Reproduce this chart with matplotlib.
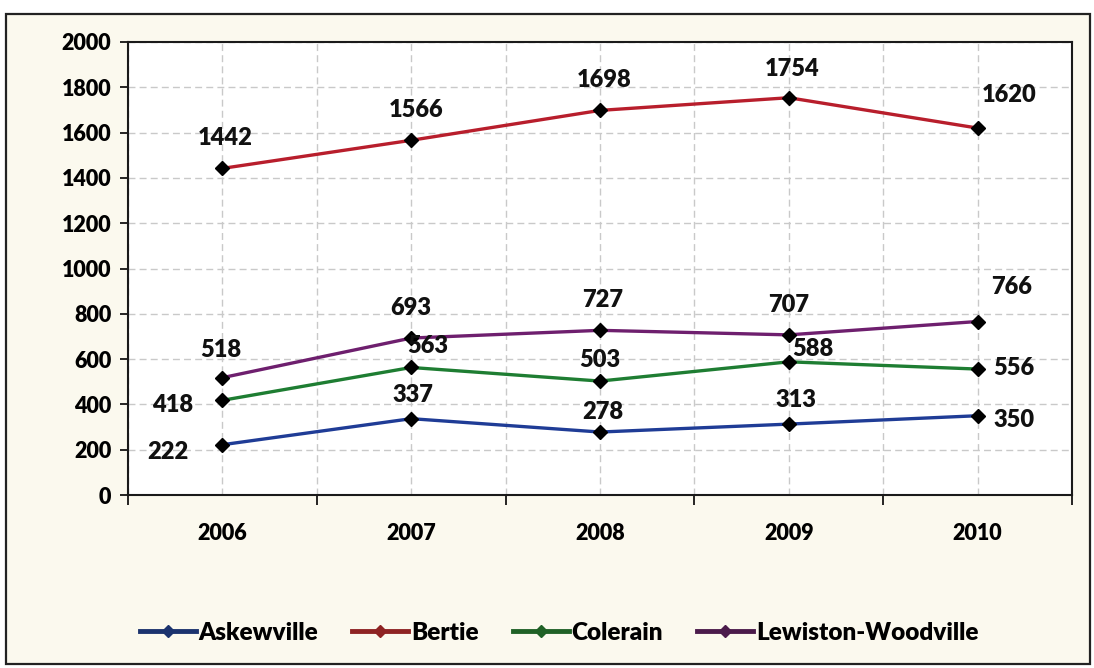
import matplotlib
matplotlib.use("Agg")
import matplotlib.pyplot as plt
from matplotlib.lines import Line2D
from matplotlib.patches import Rectangle

# Enrollment by school, 2006-2010
years = ["2006", "2007", "2008", "2009", "2010"]
askewville = [222, 337, 278, 313, 350]
bertie = [1442, 1566, 1698, 1754, 1620]
colerain = [418, 563, 503, 588, 556]
lewiston = [518, 693, 727, 707, 766]

series_names = ["Askewville", "Bertie", "Colerain", "Lewiston-Woodville"]
series_values = [askewville, bertie, colerain, lewiston]
series_colors = ["#1F3C96", "#B81E2C", "#1E7D32", "#6E1F6E"]
legend_colors = ["#1B336E", "#8E2323", "#1F6126", "#4B1B4B"]

# label offsets in pixels (dx, dy) for each series point
label_offsets = [
    [(-55, -7), (2, 24), (3, 20), (7, 24), (36, -4)],
    [(3, 30), (5, 30), (4, 30), (3, 29), (32, 33)],
    [(-50, -5), (17, 21), (0, 21), (24, 13), (36, 1)],
    [(-2, 28), (0, 30), (3, 30), (0, 30), (34, 35)],
]

plt.rcParams["font.family"] = ["Lato", "DejaVu Sans"]
plt.rcParams["font.weight"] = "heavy"
W = "heavy"

fig = plt.figure(figsize=(10.94, 6.68), dpi=100)
fig.patch.set_facecolor("white")

# cream chart area with dark frame, kept behind the axes
frame = Rectangle((6 / 1094, 1 - 664 / 668), 1084 / 1094, 650 / 668,
                  transform=fig.transFigure, facecolor="#FBF9EE",
                  edgecolor="#222222", linewidth=1.6, zorder=-10)
fig.patches.append(frame)

ax = fig.add_axes([128 / 1094, 1 - 495 / 668, 944 / 1094, 453 / 668])
ax.set_zorder(1)
ax.set_facecolor("white")

x = list(range(len(years)))
for vals, color, offs in zip(series_values, series_colors, label_offsets):
    ax.plot(x, vals, color=color, linewidth=2.4, zorder=3,
            marker="D", markersize=7, markerfacecolor="black",
            markeredgecolor="black")
    for xi, v, (dx, dy) in zip(x, vals, offs):
        ax.annotate(str(v), (xi, v), xytext=(dx, dy), textcoords="offset pixels",
                    ha="center", va="center", fontsize=17, fontweight=W,
                    color="#111111", zorder=4)

ax.set_xlim(-0.5, len(years) - 0.5)
ax.set_ylim(0, 2000)
ax.set_yticks(range(0, 2001, 200))
ax.set_xticks([i - 0.5 for i in range(len(years) + 1)])
ax.set_xticklabels([])
ax.set_xticks(x, minor=True)
ax.set_xticklabels(years, minor=True)

ax.tick_params(axis="x", which="major", length=7, width=1.2, direction="out")
ax.tick_params(axis="x", which="minor", length=0, pad=20, labelsize=15.5)
ax.tick_params(axis="y", length=6, width=1.2, direction="out", pad=6, labelsize=15.5)
for lab in ax.get_xticklabels(minor=True) + ax.get_yticklabels():
    lab.set_fontweight(W)

ax.grid(True, which="both", axis="x", color="#C9C9C9", linestyle=(0, (5, 3)), linewidth=1)
ax.grid(True, which="major", axis="y", color="#C9C9C9", linestyle=(0, (5, 3)), linewidth=1)
ax.set_axisbelow(True)
for sp in ax.spines.values():
    sp.set_color("#1a1a1a")
    sp.set_linewidth(1.5)

handles = [Line2D([0], [0], color=c, linewidth=3.5, marker="D", markersize=6.5,
                  markerfacecolor=c, markeredgecolor=c) for c in legend_colors]
leg = fig.legend(handles, series_names, loc="center",
                 bbox_to_anchor=(559 / 1094, 1 - 633 / 668), ncol=4, frameon=False,
                 handlelength=2.3, handletextpad=0.12, columnspacing=1.4,
                 prop={"size": 17.5, "weight": W})

fig.savefig("out.png", dpi=100, facecolor=fig.get_facecolor())
